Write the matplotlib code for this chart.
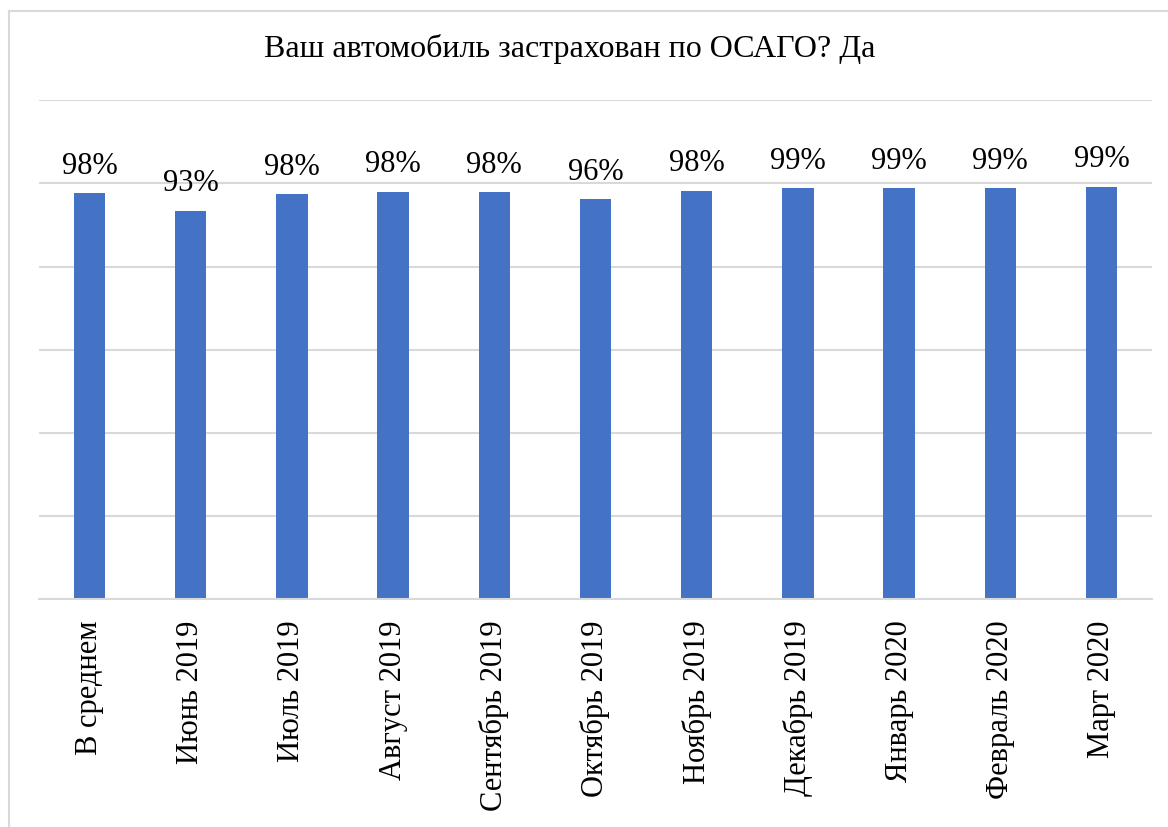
import matplotlib
matplotlib.use("Agg")
import matplotlib.pyplot as plt
from matplotlib.lines import Line2D

plt.rcParams["font.family"] = ["Liberation Serif", "DejaVu Serif"]

# данные
categories = [
    "В среднем", "Июнь 2019", "Июль 2019", "Август 2019", "Сентябрь 2019",
    "Октябрь 2019", "Ноябрь 2019", "Декабрь 2019", "Январь 2020",
    "Февраль 2020", "Март 2020",
]
values = [97.7, 93.4, 97.4, 98.0, 97.9, 96.2, 98.3, 98.9, 98.9, 98.9, 99.2]
labels = ["98%", "93%", "98%", "98%", "98%", "96%", "98%", "99%", "99%", "99%", "99%"]
title = "Ваш автомобиль застрахован по ОСАГО? Да"

W, H = 1168, 827
fig = plt.figure(figsize=(W / 100, H / 100), dpi=100)
ax = fig.add_axes([39 / W, 1 - 599.3 / H, (1152 - 39) / W, (599.3 - 100.3) / H])

x = range(len(categories))
ax.bar(x, values, width=0.31, color="#4472C4", zorder=3)
ax.set_xlim(-0.5, len(categories) - 0.5)
ax.set_ylim(0, 120)
ax.set_yticks(range(0, 121, 20))
ax.set_yticklabels([])
ax.tick_params(axis="y", length=0)
ax.grid(axis="y", color="#d9d9d9", linewidth=1.5, zorder=0)

for s in ["top", "right", "left"]:
    ax.spines[s].set_visible(False)
ax.spines["bottom"].set_color("#d9d9d9")
ax.spines["bottom"].set_linewidth(1.5)
ax.spines["bottom"].set_zorder(4)

ax.set_xticks(list(x))
ax.set_xticklabels(categories, rotation=90, fontsize=22, va="top", ha="center")
ax.tick_params(axis="x", length=0, pad=15)

for xi, v, lab in zip(x, values, labels):
    ax.annotate(lab, (xi, v), xytext=(0, 9), textcoords="offset points",
                ha="center", va="bottom", fontsize=22)

fig.text(570 / W, 1 - 49 / H, title, ha="center", va="center", fontsize=23)

# рамка области диаграммы (видна только слева и сверху)
fig.add_artist(Line2D([9 / W, 9 / W], [0, 1 - 11 / H], color="#d9d9d9", linewidth=1.5))
fig.add_artist(Line2D([9 / W, 1], [1 - 11 / H, 1 - 11 / H], color="#d9d9d9", linewidth=1.5))

fig.savefig("out.png", dpi=100)
